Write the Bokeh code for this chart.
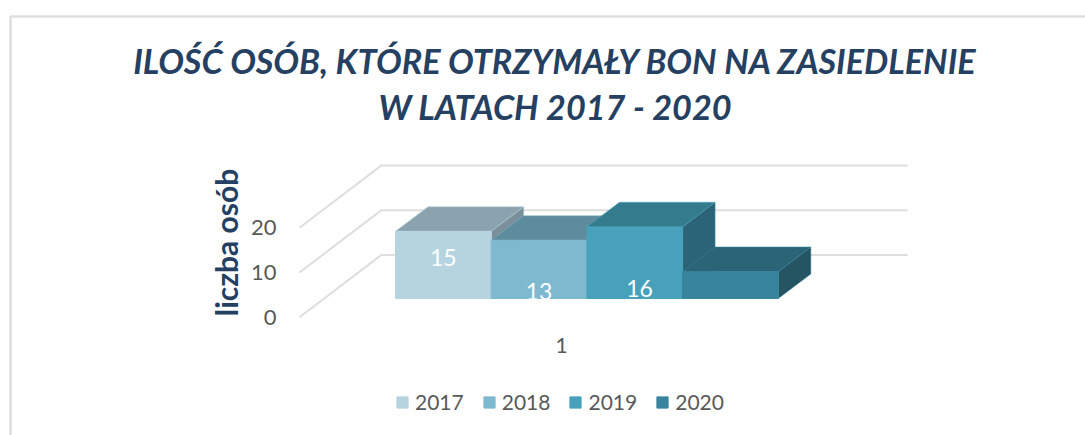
from bokeh.plotting import figure
from bokeh.embed import file_html
from bokeh.resources import INLINE
from bokeh.models import (Range1d, FixedTicker, LinearAxis, Legend, LegendItem,
                          ColumnDataSource, Label)
from bokeh.core.properties import value
import math

years = ["2017", "2018", "2019", "2020"]
counts = [15, 13, 16, 6]
shown_labels = ["15", "13", "16"]
label_x = [0.5, 1.5, 2.55]
label_y = [13.3, 5.7, 6.4]
front_colors = ["#B6D4E0", "#7FB9CF", "#48A1BA", "#38849C"]
top_colors = ["#8AA3AE", "#5F8C9D", "#347B8E", "#2B6476"]
side_colors = ["#7A8F99", "#527A89", "#2B6476", "#255562"]
y_ticks = [0, 10, 20]
title_lines = ["ILOŚĆ OSÓB, KTÓRE OTRZYMAŁY BON NA ZASIEDLENIE", "W LATACH 2017 - 2020"]

FONT = "Lato"
NAVY = "#254061"
GREY = "#595959"
GRID = "#DEDEDE"
WALL_DX, WALL_DY = 0.857, 13.92
BAR_DX, BAR_DY = 0.34, 5.5
BAR_BASE = 4.18
W, H = 1085, 435
PX_X, PX_Y = 95.7, 4.475   # pixels per x unit, per value
XO, YO = 395, 316.7        # figure pixels of x=0 and value 0

def dx(px): return (px - XO) / PX_X
def dy(py): return (YO - py) / PX_Y

p = figure(width=W, height=H, output_backend="svg", toolbar_location=None,
           x_range=Range1d(dx(0), dx(W)), y_range=Range1d(dy(H), dy(0)),
           min_border=0, x_axis_type=None, y_axis_type=None, outline_line_color=None)
p.grid.visible = False

p.line([dx(10), dx(10), dx(W + 5)], [dy(H + 5), dy(16), dy(16)], line_color=GRID, line_width=2.5)

for line, sy in zip(title_lines, [60, 106]):
    p.add_layout(Label(x=555, y=H - sy, x_units="screen", y_units="screen",
                       text=line, text_font=FONT, text_font_size="34.2px",
                       text_font_style="bold italic", text_color=NAVY,
                       text_align="center", text_baseline="middle"))

x0 = dx(299)
x1 = x0 + WALL_DX
x2 = dx(907)

y_axis = LinearAxis(ticker=FixedTicker(ticks=y_ticks), fixed_location=x0, axis_line_color=None,
                    major_tick_line_color=None, minor_tick_line_color=None,
                    major_label_text_font=FONT, major_label_text_font_size="22px",
                    major_label_text_color=GREY, major_label_standoff=17)
p.add_layout(y_axis, "left")

x_axis = LinearAxis(ticker=FixedTicker(ticks=[1.736]), major_label_overrides={1.736: "1"},
                    fixed_location=-0.06, axis_line_color=None, major_tick_line_color=None,
                    minor_tick_line_color=None, major_label_text_font=FONT,
                    major_label_text_font_size="21px", major_label_text_color=GREY,
                    major_label_standoff=15)
p.add_layout(x_axis, "below")

p.text(x=[dx(225)], y=[dy(242)], text=["liczba osób"], angle=math.pi / 2,
       text_font=value(FONT), text_font_size="30px", text_font_style="bold", text_color=NAVY,
       text_align="center", text_baseline="middle")

p.multi_line([[x0, x1, x2] for _ in y_ticks],
             [[t, t + WALL_DY, t + WALL_DY] for t in y_ticks],
             line_color=GRID, line_width=2)

items = []
for i, (yr, v) in enumerate(zip(years, counts)):
    top = BAR_BASE + v
    p.patch([i, i + BAR_DX, i + 1 + BAR_DX, i + 1],
            [top, top + BAR_DY, top + BAR_DY, top],
            fill_color=top_colors[i], line_color=front_colors[i], line_alpha=0.5, line_width=1)
    p.patch([i + 1, i + 1 + BAR_DX, i + 1 + BAR_DX, i + 1],
            [BAR_BASE, BAR_BASE + BAR_DY, top + BAR_DY, top],
            fill_color=side_colors[i], line_color=front_colors[i], line_alpha=0.5, line_width=1)
    r = p.quad(left=[i], right=[i + 1], bottom=[BAR_BASE], top=[top],
               fill_color=front_colors[i], line_color=front_colors[i], line_width=1)
    items.append(LegendItem(label=yr, renderers=[r]))

src = ColumnDataSource(dict(x=label_x, y=label_y, t=shown_labels))
p.text("x", "y", "t", source=src, text_color="white", text_font=value(FONT),
       text_font_size="23px", text_align="center", text_baseline="middle")

legend = Legend(items=items, orientation="horizontal", location=(395, 21),
                padding=0, margin=0, spacing=18, glyph_width=14, glyph_height=14,
                label_standoff=6, label_text_font=FONT, label_text_font_size="21px",
                label_text_color=GREY, background_fill_alpha=0, border_line_color=None)
p.add_layout(legend, "center")

open("out.html", "w").write(file_html(p, INLINE))
